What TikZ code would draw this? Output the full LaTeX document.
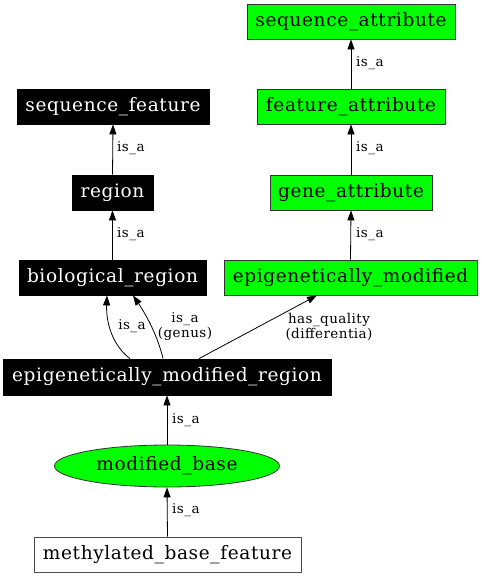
\documentclass[tikz,border=0pt]{standalone}
\usepackage{fontspec}
\setmainfont{DejaVu Serif}
\newfontfamily\gvnodefont[LetterSpace=3.4]{DejaVu Serif}
\newfontfamily\gvlabelfont[LetterSpace=3.3]{DejaVu Serif}
\usetikzlibrary{arrows.meta,shapes.geometric}
\definecolor{gvgreen}{RGB}{0,255,0}
\tikzset{
  base/.style={inner sep=0pt, line width=0.8pt, font=\gvnodefont\fontsize{18.5}{21}\selectfont},
  blackbox/.style={base, rectangle, draw=black, fill=black, text=white},
  greenbox/.style={base, rectangle, draw=black!80, fill=gvgreen, text=black},
  whitebox/.style={base, rectangle, draw=black!70, fill=white, text=black},
  greenell/.style={base, ellipse, draw=black!80, fill=gvgreen, text=black},
  edge/.style={line width=0.8pt, -{Triangle[length=10pt,width=7pt]}},
  elabel/.style={inner sep=0pt, font=\gvlabelfont\fontsize{13.5}{15}\selectfont, align=center}
}
\begin{document}
\begin{tikzpicture}[x=1pt,y=-1pt]
\useasboundingbox (0,0) rectangle (482,576);
% nodes
\node[greenbox, minimum width=208pt, minimum height=35pt] (seqattr) at (351,21.5) {sequence\_attribute};
\node[blackbox, minimum width=192pt, minimum height=35pt] (seqfeat) at (113,106.5) {sequence\_feature};
\node[greenbox, minimum width=188pt, minimum height=35pt] (featattr) at (351,106.5) {feature\_attribute};
\node[blackbox, minimum width=81pt, minimum height=35pt] (region) at (112.5,192.5) {region};
\node[greenbox, minimum width=162pt, minimum height=35pt] (geneattr) at (351,192.5) {gene\_attribute};
\node[blackbox, minimum width=187pt, minimum height=35pt] (bioreg) at (112.5,277.5) {biological\_region};
\node[greenbox, minimum width=253pt, minimum height=35pt] (epimod) at (350.5,277.5) {epigenetically\_modified};
\node[blackbox, minimum width=328pt, minimum height=36pt] (emr) at (167,377) {epigenetically\_modified\_region};
\node[greenell, minimum width=225pt, minimum height=42pt] (modbase) at (167,466) {modified\_base};
\node[whitebox, minimum width=267pt, minimum height=35pt] (mbf) at (167.5,554.5) {methylated\_base\_feature};
% edges
\draw[edge] (featattr.north) -- (seqattr.south);
\draw[edge] (geneattr.north) -- (featattr.south);
\draw[edge] (epimod.north) -- (geneattr.south);
\draw[edge] (region.north) -- (seqfeat.south);
\draw[edge] (bioreg.north) -- (region.south);
\draw[edge] ([xshift=-37pt]emr.north) .. controls (112,345) and (106,322) .. ([xshift=-5.5pt]bioreg.south);
\draw[edge] ([xshift=-4pt]emr.north) .. controls (158,337) and (147,316) .. ([xshift=20.5pt]bioreg.south);
\draw[edge] ([xshift=32pt]emr.north) -- ([xshift=-33.5pt]epimod.south);
\draw[edge] (modbase.north) -- (emr.south);
\draw[edge] (mbf.north) -- (modbase.south);
% labels
\node[elabel, anchor=west] (l1) at (356,63) {is\_a};
\node[elabel, anchor=west] (l2) at (356,148) {is\_a};
\node[elabel, anchor=west] (l3) at (356,234) {is\_a};
\node[elabel, anchor=west] (l4) at (117,148) {is\_a};
\node[elabel, anchor=west] (l5) at (117,234) {is\_a};
\node[elabel] (l6) at (132,326) {is\_a};
\node[elabel] (l7) at (185,326.5) {is\_a\\(genus)};
\node[elabel] (l8) at (329,326.5) {has\_quality\\(differentia)};
\node[elabel, anchor=west] (l9) at (172,420) {is\_a};
\node[elabel, anchor=west] (l10) at (172,510) {is\_a};
\end{tikzpicture}
\end{document}
